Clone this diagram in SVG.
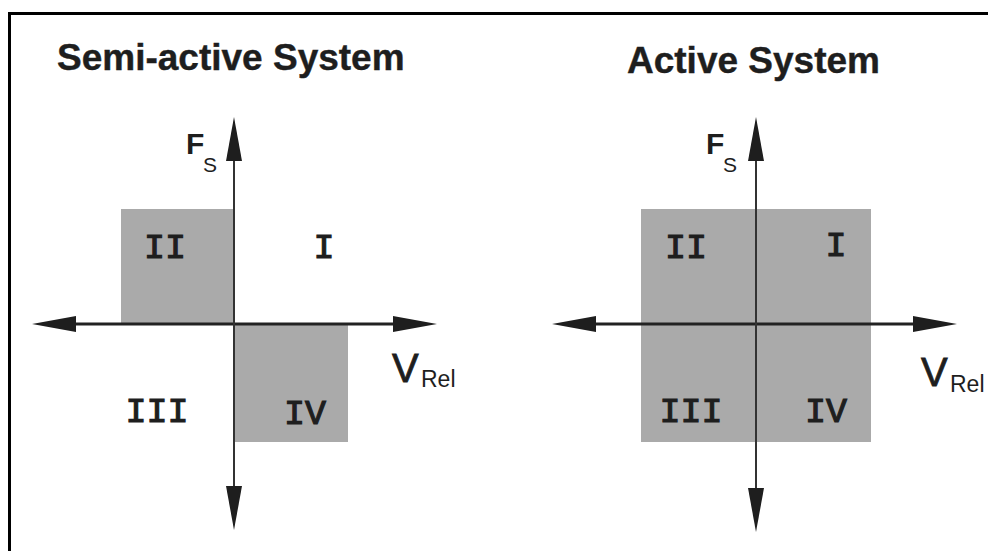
<svg xmlns="http://www.w3.org/2000/svg" width="988" height="551" viewBox="0 0 988 551">
  <style>
    .title { font-family: "Liberation Sans", Arial, sans-serif; font-weight: bold; font-size: 37px; fill: #1e1e1e; stroke: #1e1e1e; stroke-width: 0.4; }
    .lab { font-family: "Liberation Sans", Arial, sans-serif; fill: #1e1e1e; }
    .rn { font-family: "Liberation Mono", "Courier New", monospace; font-size: 35px; fill: #1e1e1e; stroke: #1e1e1e; stroke-width: 1.2; text-anchor: middle; }
    .quad { fill: #aaaaaa; }
    .hax { stroke: #222; stroke-width: 3; fill: none; }
    .vax { stroke: #333; stroke-width: 2; fill: none; }
    .frame { stroke: #000; stroke-width: 3; fill: none; }
  </style>
  <defs>
    <marker id="ah" viewBox="0 0 44 16" markerWidth="44" markerHeight="16" refX="24" refY="8" markerUnits="userSpaceOnUse" orient="auto-start-reverse">
      <path d="M0,0 L44,8 L0,16 z" fill="#1e1e1e"/>
    </marker>
  </defs>
  <rect width="988" height="551" fill="#fff"/>
  <path class="frame" d="M9.5,551 V13.5 H988"/>

  <g id="semi-active">
    <text class="title" x="57" y="70">Semi-active System</text>
    <rect class="quad" x="121" y="209" width="113" height="115"/>
    <rect class="quad" x="234" y="324" width="114" height="118"/>
    <text class="rn" x="165" y="258">II</text>
    <text class="rn" x="324" y="258">I</text>
    <text class="rn" x="157" y="422">III</text>
    <text class="rn" x="305" y="424">IV</text>
    <text class="lab" x="186" y="154" font-size="30" font-weight="bold">F</text>
    <text class="lab" x="203" y="172" font-size="21">S</text>
    <text class="lab" x="392" y="382" font-size="40" stroke="#1e1e1e" stroke-width="0.8">V</text>
    <text class="lab" x="421" y="387" font-size="23" fill="#333">Rel</text>
  </g>

  <g id="active">
    <text class="title" x="627" y="73">Active System</text>
    <rect class="quad" x="641" y="209" width="230" height="233"/>
    <text class="rn" x="686" y="258">II</text>
    <text class="rn" x="836" y="256">I</text>
    <text class="rn" x="691" y="422">III</text>
    <text class="rn" x="826" y="422">IV</text>
    <text class="lab" x="706" y="154" font-size="30" font-weight="bold">F</text>
    <text class="lab" x="723" y="172" font-size="21">S</text>
    <text class="lab" x="921" y="386" font-size="40" stroke="#1e1e1e" stroke-width="0.8">V</text>
    <text class="lab" x="950" y="392" font-size="23" fill="#333">Rel</text>
  </g>

  <g id="connectors">
    <line class="hax" x1="52" y1="324" x2="417" y2="324" marker-start="url(#ah)" marker-end="url(#ah)"/>
    <line class="vax" x1="234" y1="137" x2="234" y2="510" marker-start="url(#ah)" marker-end="url(#ah)"/>
    <line class="hax" x1="572" y1="324" x2="937" y2="324" marker-start="url(#ah)" marker-end="url(#ah)"/>
    <line class="vax" x1="756" y1="137" x2="756" y2="512" marker-start="url(#ah)" marker-end="url(#ah)"/>
  </g>
</svg>
